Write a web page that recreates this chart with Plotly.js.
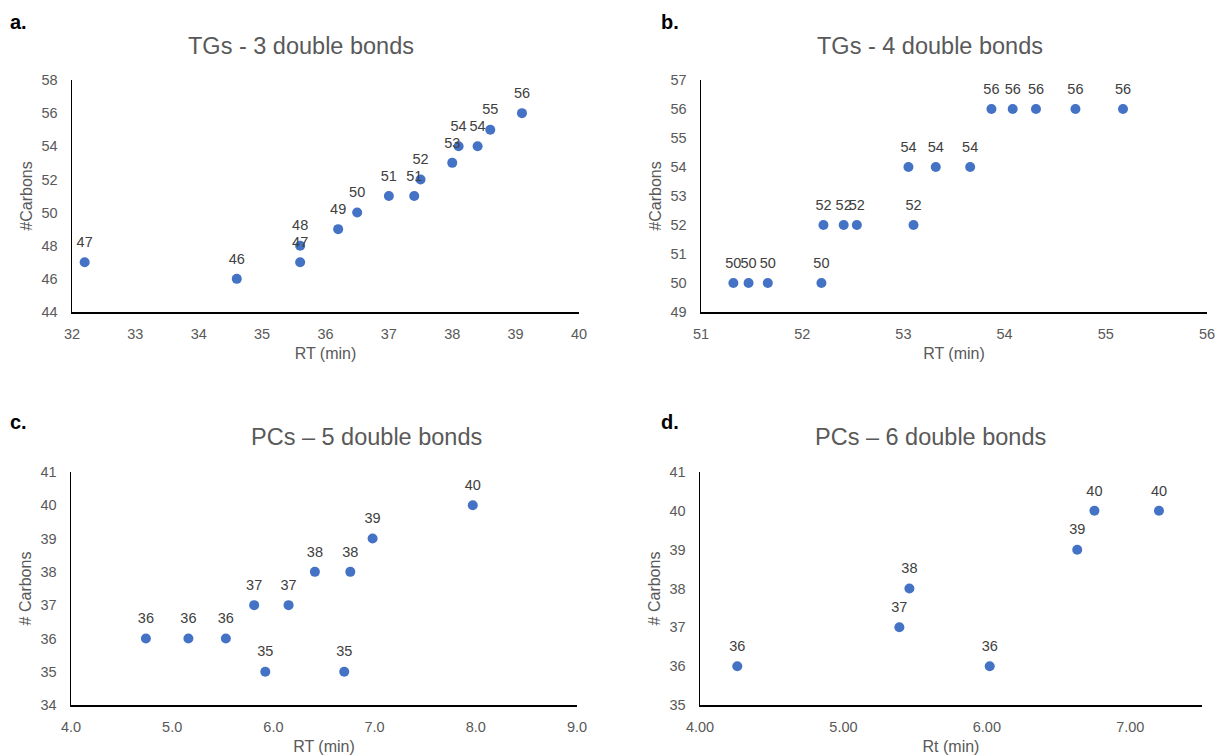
<!DOCTYPE html>
<html><head><meta charset="utf-8">
<script src="https://cdn.plot.ly/plotly-3.0.1.min.js"></script>
<style>html,body{margin:0;padding:0;background:#fff}#chart{width:1216px;height:756px}</style>
</head><body><div id="chart"></div><script>
// Panel a: TGs - 3 double bonds
const rtA = [32.2, 34.6, 35.6, 35.6, 36.2, 36.5, 37.0, 37.4, 37.5, 38.0, 38.1, 38.4, 38.6, 39.1];
const carbonsA = [47, 46, 48, 47, 49, 50, 51, 51, 52, 53, 54, 54, 55, 56];
// Panel b: TGs - 4 double bonds
const rtB = [51.32, 51.47, 51.66, 52.19, 52.21, 52.41, 52.54, 53.10, 53.05, 53.32, 53.66, 53.87, 54.08, 54.31, 54.70, 55.17];
const carbonsB = [50, 50, 50, 50, 52, 52, 52, 52, 54, 54, 54, 56, 56, 56, 56, 56];
// Panel c: PCs – 5 double bonds
const rtC = [4.74, 5.16, 5.53, 5.81, 5.92, 6.15, 6.41, 6.70, 6.76, 6.98, 7.97];
const carbonsC = [36, 36, 36, 37, 35, 37, 38, 35, 38, 39, 40];
// Panel d: PCs – 6 double bonds
const rtD = [4.26, 5.39, 5.46, 6.02, 6.63, 6.75, 7.20];
const carbonsD = [36, 37, 38, 36, 39, 40, 40];

const panelTitles = ["TGs - 3 double bonds", "TGs - 4 double bonds", "PCs \u2013 5 double bonds", "PCs \u2013 6 double bonds"];
const panelLetters = ["a.", "b.", "c.", "d."];
const xTitles = ["RT (min)", "RT (min)", "RT (min)", "Rt (min)"];
const yTitles = ["#Carbons", "#Carbons", "# Carbons", "# Carbons"];

const FONT = "Arial, 'Liberation Sans', sans-serif";
const BLUE = "#4472C4";
const GREY = "#595959";

function points(x, y, xa, ya) {
  return {
    type: "scatter", mode: "markers", x: x, y: y,
    marker: {color: BLUE, size: 10},
    hoverinfo: "x+y", showlegend: false, xaxis: xa, yaxis: ya
  };
}
// data labels (value of #carbons) placed above each point; a transparent spacer marker sets the gap
function labels(x, y, xa, ya) {
  return {
    type: "scatter", mode: "markers+text", x: x, y: y,
    text: y.map(String), textposition: "top center",
    textfont: {family: FONT, size: 14.5, color: "#404040"},
    marker: {color: "rgba(0,0,0,0)", size: 17},
    cliponaxis: false, hoverinfo: "skip", showlegend: false,
    xaxis: xa, yaxis: ya
  };
}

const data = [
  points(rtA, carbonsA, "x", "y"),
  points(rtB, carbonsB, "x2", "y2"),
  points(rtC, carbonsC, "x3", "y3"),
  points(rtD, carbonsD, "x4", "y4"),
  labels(rtA, carbonsA, "x", "y"),
  labels(rtB, carbonsB, "x2", "y2"),
  labels(rtC, carbonsC, "x3", "y3"),
  labels(rtD, carbonsD, "x4", "y4")
];

function xax(dom, range, dtick, fmt, title, anchor) {
  return {
    domain: dom, range: range, dtick: dtick, tick0: range[0], tickformat: fmt,
    showgrid: false, zeroline: false, showline: true, linecolor: "#000", linewidth: 1.5,
    ticks: "", ticklabelstandoff: 8, tickfont: {family: FONT, size: 14.5, color: GREY},
    title: {text: title, font: {family: FONT, size: 16, color: GREY}, standoff: 7},
    anchor: anchor, fixedrange: true, automargin: false
  };
}
function yax(dom, range, dtick, title, anchor) {
  return {
    domain: dom, range: range, dtick: dtick, tick0: range[0],
    showgrid: false, zeroline: false, showline: true, linecolor: "#000", linewidth: 1.5,
    ticks: "", ticklabelstandoff: 10, tickfont: {family: FONT, size: 14.5, color: GREY},
    title: {text: title, font: {family: FONT, size: 16, color: GREY}, standoff: 5},
    anchor: anchor, fixedrange: true, automargin: false
  };
}

const W = 1216, H = 756;
const px = v => v / W;
const py = v => 1 - v / H;

const layout = {
  width: W, height: H, margin: {l: 0, r: 0, t: 0, b: 0},
  paper_bgcolor: "#fff", plot_bgcolor: "#fff",
  font: {family: FONT, color: GREY},
  xaxis:  xax([px(72), px(579)], [32, 40], 1, "d", xTitles[0], "y"),
  yaxis:  yax([py(312), py(80)], [44, 58], 2, yTitles[0], "x"),
  xaxis2: xax([px(701), px(1207)], [51, 56], 1, "d", xTitles[1], "y2"),
  yaxis2: yax([py(312), py(80)], [49, 57], 1, yTitles[1], "x2"),
  xaxis3: xax([px(71), px(577)], [4, 9], 1, ".1f", xTitles[2], "y3"),
  yaxis3: yax([py(705), py(472)], [34, 41], 1, yTitles[2], "x3"),
  xaxis4: xax([px(700), px(1202)], [4, 7.5], 1, ".2f", xTitles[3], "y4"),
  yaxis4: yax([py(705), py(472)], [35, 41], 1, yTitles[3], "x4"),
  annotations: []
};

const titlePos = [[301, 46], [930, 46], [366, 437], [930, 437]];
const letterPos = [[8, 22], [659, 22], [8, 422], [659, 422]];
for (let i = 0; i < 4; i++) {
  layout.annotations.push({
    text: panelTitles[i], xref: "paper", yref: "paper",
    x: px(titlePos[i][0]), y: py(titlePos[i][1]), xanchor: "center", yanchor: "middle",
    showarrow: false, font: {family: FONT, size: 23.5, color: GREY}
  });
  layout.annotations.push({
    text: "<b>" + panelLetters[i] + "</b>", xref: "paper", yref: "paper",
    x: px(letterPos[i][0]), y: py(letterPos[i][1]), xanchor: "left", yanchor: "middle",
    showarrow: false, font: {family: FONT, size: 20, color: "#000"}
  });
}

Plotly.newPlot("chart", data, layout, {displayModeBar: false, staticPlot: true});
</script></body></html>
